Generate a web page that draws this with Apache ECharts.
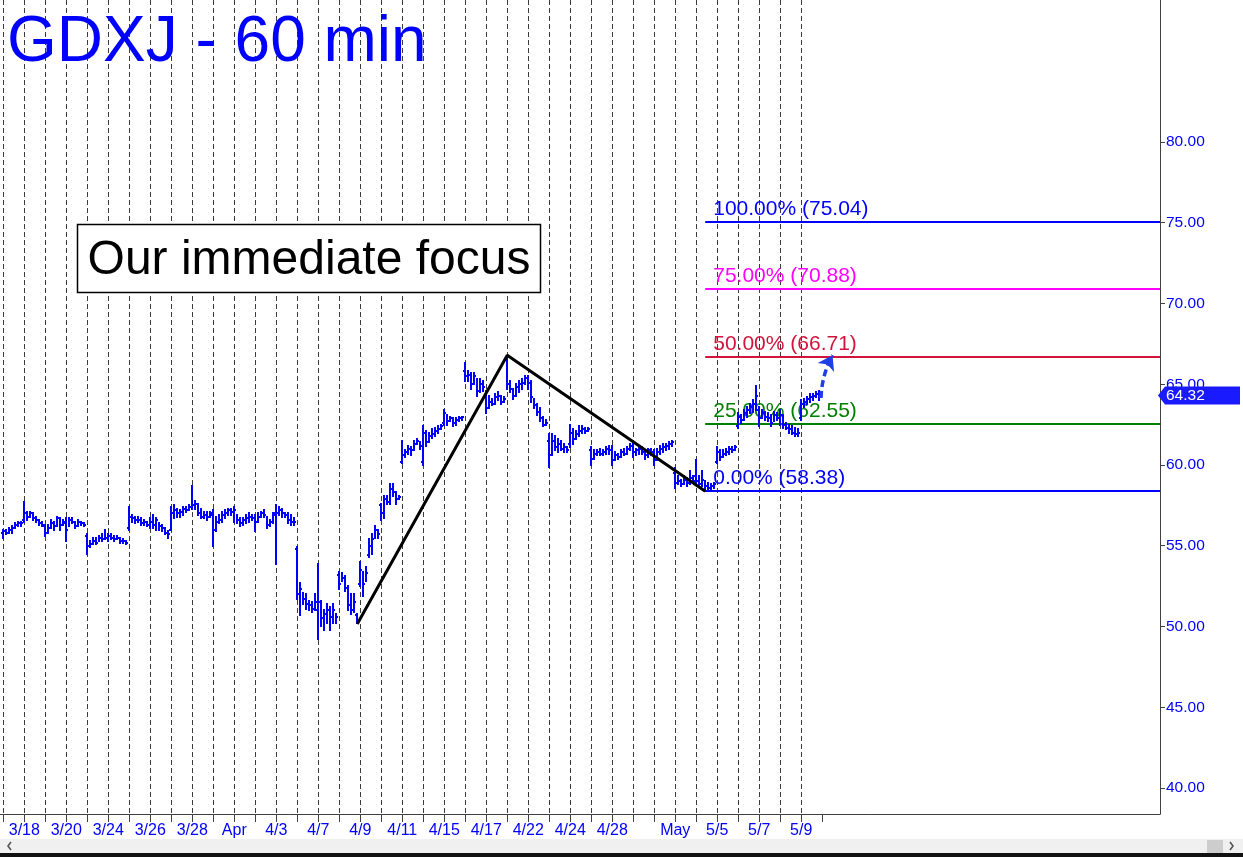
<!DOCTYPE html>
<html><head><meta charset="utf-8">
<script src="https://cdn.jsdelivr.net/npm/echarts@6/dist/echarts.min.js"></script>
<style>html,body{margin:0;padding:0;background:#fff;overflow:hidden}#c{width:1243px;height:857px}</style>
</head><body><div id="c"></div>
<script>
// ---- data ----
const dates = ['3/17','3/18','3/19','3/20','3/21','3/24','3/25','3/26','3/27','3/28','3/31','4/1','4/2','4/3','4/4','4/7','4/8','4/9','4/10','4/11','4/14','4/15','4/16','4/17','4/21','4/22','4/23','4/24','4/25','4/28','4/29','4/30','5/1','5/2','5/5','5/6','5/7','5/8','5/9'];
const dayLabels = ['','3/18','','3/20','','3/24','','3/26','','3/28','','Apr','','4/3','','4/7','','4/9','','4/11','','4/15','','4/17','','4/22','','4/24','','4/28','','','May','','5/5','','5/7','','5/9'];
const barsPerDay = 7;
const open = [
55.8,55.9,55.8,56.0,56.1,56.3,56.4,
56.6,57.0,56.8,57.0,56.7,56.6,56.4,
56.2,55.8,56.1,56.4,56.2,56.7,56.3,
56.4,56.0,56.6,56.5,56.2,56.5,56.4,
55.6,55.0,55.1,55.3,55.2,55.5,55.4,
55.5,55.6,55.5,55.4,55.5,55.3,55.3,
56.1,56.8,56.7,56.6,56.6,56.4,56.5,
56.3,56.5,56.3,56.6,56.2,56.1,55.8,
56.0,57.0,57.2,57.0,57.1,57.3,57.2,
57.4,57.5,57.6,57.0,56.8,56.9,56.8,
56.9,56.0,56.5,56.6,56.9,57.0,57.2,
57.1,57.2,56.6,56.4,56.6,56.7,56.8,
56.7,56.5,56.8,57.0,56.9,56.3,56.5,
57.0,57.0,57.2,57.0,56.9,56.6,56.5,
54.8,52.0,52.3,51.7,51.4,51.3,51.1,
51.0,51.5,50.5,50.8,51.0,50.6,51.0,
53.2,52.6,53.0,52.4,51.3,51.0,50.7,
52.6,53.5,52.6,54.4,55.0,55.4,56.0,
57.5,57.0,57.9,57.7,58.5,58.3,57.9,
60.2,60.6,60.8,61.0,60.9,61.3,61.5,
60.2,62.0,61.4,61.8,61.9,62.1,62.2,
62.6,63.2,62.7,62.9,62.6,62.8,62.9,
65.8,65.5,65.6,65.0,65.5,64.6,65.0,
64.3,63.5,63.9,63.8,64.2,64.3,63.9,
66.5,65.0,64.7,64.3,64.8,65.0,65.1,
65.4,65.1,64.2,63.7,63.3,62.9,62.5,
61.5,60.6,61.5,61.1,61.3,61.0,61.1,
61.3,62.0,61.6,61.9,62.1,62.2,62.1,
60.9,60.4,60.7,60.8,60.7,60.8,61.0,
60.9,60.3,60.6,60.5,60.8,60.7,61.0,
61.2,60.8,60.9,61.0,60.8,60.6,60.9,
60.8,60.3,60.8,61.0,61.1,61.2,61.3,
59.5,58.9,59.0,58.8,59.1,58.9,59.2,
59.3,59.0,58.8,59.1,58.7,58.6,58.7,
60.2,60.8,60.5,60.7,60.8,61.0,60.9,
62.4,63.0,62.8,63.2,63.4,63.6,63.8,
63.4,62.9,63.2,63.0,62.9,62.6,63.1,
62.9,63.1,62.5,62.3,62.2,62.0,61.9,
62.9,63.8,63.9,64.1,64.2,64.3,64.4];
const high = [
56.0,56.0,56.1,56.2,56.4,56.5,56.5,
57.7,57.1,57.1,57.0,56.8,56.6,56.5,
56.3,56.3,56.6,56.5,56.8,56.7,56.6,
56.7,56.7,56.7,56.5,56.6,56.5,56.4,
55.7,55.3,55.5,55.5,55.6,55.7,56.0,
55.7,55.7,55.6,55.6,55.5,55.4,55.3,
57.4,56.9,56.8,56.8,56.7,56.6,56.5,
56.7,56.9,56.7,56.4,56.3,56.1,55.9,
57.4,57.5,57.3,57.2,57.4,57.4,57.5,
58.7,57.8,57.6,57.3,57.1,57.1,57.1,
57.2,56.8,56.9,57.1,57.2,57.3,57.3,
57.4,56.9,56.7,56.7,56.9,57.0,56.9,
56.9,57.0,57.1,57.2,56.8,56.6,57.0,
57.5,57.4,57.3,57.0,57.0,56.9,56.7,
54.9,52.7,52.1,52.0,51.6,51.5,52.0,
53.9,51.6,51.0,51.4,51.2,51.4,50.8,
53.4,53.3,53.1,52.5,52.0,52.0,50.8,
54.0,53.4,53.7,55.4,55.7,56.2,56.0,
57.6,58.1,58.1,58.8,58.8,58.3,58.1,
61.5,60.9,61.2,61.1,61.5,61.6,61.4,
62.4,62.1,62.0,62.2,62.3,62.4,62.5,
63.4,63.1,63.0,62.9,62.9,63.0,63.0,
66.3,65.8,65.7,65.7,65.3,65.3,65.2,
64.6,64.3,64.1,64.4,64.5,64.3,64.2,
66.7,65.2,64.7,65.0,65.2,65.3,65.5,
65.5,65.2,64.1,63.8,63.5,63.0,62.8,
61.9,61.9,61.8,61.6,61.5,61.3,61.1,
62.5,62.2,62.1,62.4,62.4,62.3,62.3,
61.1,60.9,60.9,61.0,60.9,61.1,61.2,
61.2,60.8,60.7,60.9,61.0,61.1,61.3,
61.4,61.0,61.2,61.1,60.9,61.0,61.0,
60.9,61.0,61.2,61.3,61.3,61.4,61.5,
59.8,59.3,59.1,59.3,59.2,59.6,59.3,
60.3,59.3,59.6,59.0,58.9,58.8,58.9,
61.1,60.9,60.9,61.0,61.1,61.1,61.2,
63.2,63.1,63.4,63.6,63.8,64.0,64.9,
63.6,63.4,63.3,63.2,63.1,63.3,63.2,
63.4,63.1,62.6,62.5,62.4,62.3,62.2,
64.0,64.1,64.2,64.4,64.4,64.5,64.6];
const low = [
55.5,55.7,55.8,55.8,56.1,56.2,56.2,
56.5,56.6,56.8,56.6,56.5,56.3,56.2,
55.6,55.8,56.1,56.0,56.2,56.0,56.3,
55.3,56.2,56.4,56.1,56.2,56.3,56.2,
54.5,54.9,55.1,55.1,55.3,55.3,55.4,
55.3,55.4,55.3,55.4,55.2,55.2,55.1,
56.0,56.5,56.4,56.5,56.3,56.3,56.2,
56.1,56.1,56.0,56.0,55.9,55.7,55.5,
56.0,56.7,56.8,56.8,56.9,57.1,57.2,
57.3,57.3,56.9,56.7,56.7,56.6,56.8,
55.0,55.9,56.4,56.5,56.7,56.9,56.9,
56.5,56.4,56.2,56.3,56.4,56.5,56.6,
55.9,56.5,56.8,56.8,56.1,56.2,56.4,
53.9,56.9,56.8,56.8,56.4,56.3,56.3,
51.7,50.7,51.4,51.1,51.0,50.9,51.0,
49.2,50.0,49.8,50.2,49.8,50.2,50.2,
52.3,52.8,52.2,51.0,50.8,50.9,50.2,
52.5,51.9,52.8,54.3,54.5,55.5,55.5,
56.6,56.7,57.6,57.6,58.1,57.6,57.9,
60.1,60.5,60.7,60.6,60.9,61.3,61.0,
60.0,61.2,61.4,61.7,61.8,62.0,62.2,
62.5,62.5,62.7,62.4,62.5,62.7,62.8,
65.2,65.2,64.7,65.0,64.3,64.5,64.6,
63.2,63.5,63.7,63.8,64.0,63.8,63.9,
64.7,64.5,64.1,64.3,64.5,64.7,65.0,
64.7,63.9,63.5,63.1,62.7,62.4,62.5,
59.9,60.6,60.9,60.8,60.9,60.8,60.8,
61.1,61.3,61.6,61.8,62.0,62.0,62.1,
60.0,60.4,60.6,60.6,60.6,60.7,60.7,
60.0,60.3,60.4,60.5,60.6,60.7,60.9,
60.5,60.6,60.7,60.7,60.4,60.5,60.6,
60.0,60.3,60.7,60.8,60.9,61.0,61.2,
58.6,58.8,58.7,58.8,58.7,58.8,58.9,
58.9,58.7,58.7,58.4,58.5,58.5,58.6,
60.1,60.3,60.5,60.6,60.7,60.8,60.9,
62.3,62.6,62.8,63.0,63.2,63.3,63.4,
62.4,62.9,62.8,62.7,62.4,62.7,62.8,
62.5,62.3,62.2,62.0,61.9,61.8,61.8,
62.8,63.6,63.8,63.9,64.0,64.2,64.0];
const close = [
55.9,55.8,56.0,56.1,56.3,56.4,56.4,
57.0,56.8,57.0,56.7,56.6,56.4,56.3,
55.8,56.1,56.4,56.2,56.7,56.3,56.5,
56.0,56.6,56.5,56.2,56.5,56.4,56.3,
55.0,55.1,55.3,55.2,55.5,55.4,55.5,
55.6,55.5,55.4,55.5,55.3,55.3,55.2,
56.8,56.7,56.6,56.6,56.4,56.5,56.3,
56.5,56.3,56.6,56.2,56.1,55.8,55.7,
57.0,57.2,57.0,57.1,57.3,57.2,57.4,
57.5,57.6,57.0,56.8,56.9,56.8,57.0,
56.0,56.5,56.6,56.9,57.0,57.2,57.1,
57.2,56.6,56.4,56.6,56.7,56.8,56.7,
56.5,56.8,57.0,56.9,56.3,56.5,56.9,
57.0,57.2,57.0,56.9,56.6,56.5,56.5,
52.0,52.3,51.7,51.4,51.3,51.1,51.5,
51.5,50.5,50.8,51.0,50.6,51.0,50.6,
52.6,53.0,52.4,51.3,51.0,51.5,50.4,
53.5,52.6,53.3,55.0,55.4,56.0,55.7,
57.0,57.9,57.7,58.5,58.3,57.9,58.0,
60.6,60.8,61.0,60.9,61.3,61.5,61.2,
62.0,61.4,61.8,61.9,62.1,62.2,62.4,
63.2,62.7,62.9,62.6,62.8,62.9,63.0,
65.5,65.6,65.0,65.5,64.6,65.0,64.8,
63.5,63.9,63.8,64.2,64.3,63.9,64.1,
65.0,64.7,64.3,64.8,65.0,65.1,65.4,
65.1,64.2,63.7,63.3,62.9,62.5,62.6,
60.6,61.5,61.1,61.3,61.0,61.1,60.9,
62.0,61.6,61.9,62.1,62.2,62.1,62.2,
60.4,60.7,60.8,60.7,60.8,61.0,60.9,
60.3,60.6,60.5,60.8,60.7,61.0,61.2,
60.8,60.9,61.0,60.8,60.6,60.9,60.8,
60.3,60.8,61.0,61.1,61.2,61.3,61.4,
58.9,59.0,58.8,59.1,58.9,59.2,59.0,
59.0,58.8,59.1,58.7,58.6,58.7,58.8,
60.8,60.5,60.7,60.8,61.0,60.9,61.1,
63.0,62.8,63.2,63.4,63.6,63.8,64.3,
62.9,63.2,63.0,62.9,62.6,63.1,62.9,
63.1,62.5,62.3,62.2,62.0,61.9,62.0,
63.8,63.9,64.1,64.2,64.3,64.4,64.32];
const yTicks = [40,45,50,55,60,65,70,75,80];
const zigzag = [{day:16,bar:6,price:50.15},{day:24,bar:0,price:66.8},{day:33,bar:3,price:58.38}];
const fibPct = ['0.00%','25.00%','50.00%','75.00%','100.00%'];
const fibPrice = [58.38,62.55,66.71,70.88,75.04];
const fibColor = ['#0000ff','#008000','#d2143c','#ff00ff','#0000ff'];
const projection = [[272.6,64.15],[276.45,66.8]];
const lastPrice = 64.32;
const titleText = 'GDXJ - 60 min';
const noteText = 'Our immediate focus';

// ---- chart ----
const FONT = '"Liberation Sans", Arial, sans-serif';
const BLUE = '#0000ff';
const xMin = -1.1, xMax = 385.6, yMin = 38.39, yMax = 88.79;
const ohlc = open.map((o,k)=>[k, o, high[k], low[k], close[k]]);
const dayStarts = dates.map((d,i)=>i*barsPerDay);
const tickVals = dayStarts.concat([dates.length*barsPerDay]);
const labelVals = dayLabels.map((l,i)=>l?i*barsPerDay:null).filter(v=>v!==null);
const zigData = zigzag.map(z=>[z.day*barsPerDay+z.bar, z.price]);
const fibStart = zigData[zigData.length-1][0];

const chart = echarts.init(document.getElementById('c'), null, {renderer:'canvas'});
chart.setOption({
  animation:false,
  backgroundColor:'#ffffff',
  grid:{left:0, right:83, top:0, bottom:43},
  xAxis:{type:'value', min:xMin, max:xMax,
    axisLine:{show:true, onZero:false, lineStyle:{color:'#404040', width:1}},
    axisTick:{show:true, customValues:tickVals, length:8, lineStyle:{color:'#404040'}},
    axisLabel:{customValues:labelVals, color:BLUE, fontSize:16, fontFamily:FONT, margin:9,
      formatter:v=>dayLabels[Math.round(v/barsPerDay)]},
    splitLine:{show:false}},
  yAxis:{type:'value', position:'right', min:yMin, max:yMax,
    axisLine:{show:true, onZero:false, lineStyle:{color:'#404040', width:1}},
    axisTick:{show:true, customValues:yTicks, length:5, lineStyle:{color:'#404040'}},
    axisLabel:{customValues:yTicks, color:BLUE, fontSize:15.5, fontFamily:FONT, margin:6,
      formatter:v=>v.toFixed(2)},
    splitLine:{show:false}},
  graphic:[
    {type:'text', left:7, top:11, z:50, style:{text:titleText, fill:BLUE, font:'64px '+FONT}},
    {type:'rect', shape:{x:77.5, y:224.5, width:463, height:68}, z:40,
      style:{fill:'#ffffff', stroke:'#000', lineWidth:1.5}},
    {type:'text', x:309, y:261, z:41, style:{text:noteText, fill:'#000', font:'48px '+FONT, align:'center', verticalAlign:'middle'}},
    {type:'rect', shape:{x:0, y:839, width:1243, height:14}, style:{fill:'#f0f0f0'}},
    {type:'rect', shape:{x:1207, y:840, width:16, height:13}, style:{fill:'#cdcdcd'}},
    {type:'polyline', shape:{points:[[11,842],[8,846],[11,850]]}, style:{stroke:'#555', lineWidth:1.6, fill:null}},
    {type:'polyline', shape:{points:[[1230,842],[1233,846],[1230,850]]}, style:{stroke:'#555', lineWidth:1.6, fill:null}},
    {type:'rect', shape:{x:0, y:853, width:1243, height:4}, style:{fill:'#111'}}
  ],
  series:[
    {type:'custom', name:'days', z:1, silent:true, data:dayStarts.map(v=>[v]),
      renderItem:(p,api)=>{
        const a=api.coord([api.value(0), yMax]), b=api.coord([api.value(0), yMin]);
        const x=Math.round(a[0])+0.5;
        return {type:'line', shape:{x1:x,y1:a[1],x2:x,y2:b[1]}, style:{stroke:'#3c3c3c', lineWidth:1, lineDash:[5,3]}};
      }},
    {type:'custom', name:'fib', z:3, silent:true, data:fibPrice.map((v,i)=>[fibStart, v, i]),
      renderItem:(p,api)=>{
        const i=api.value(2);
        const a=api.coord([api.value(0), api.value(1)]), b=api.coord([xMax, api.value(1)]);
        const y=Math.round(a[1]);
        return {type:'group', children:[
          {type:'line', shape:{x1:a[0],y1:y,x2:b[0],y2:y}, style:{stroke:fibColor[i], lineWidth:2}},
          {type:'text', style:{text:fibPct[i]+' ('+fibPrice[i].toFixed(2)+')', x:a[0]+8, y:y-13, fill:fibColor[i], font:'21px '+FONT, verticalAlign:'middle'}}
        ]};
      }},
    {type:'custom', name:'GDXJ', z:4, silent:true, data:ohlc,
      renderItem:(p,api)=>{
        const x=api.value(0);
        const pO=api.coord([x,api.value(1)]), pH=api.coord([x,api.value(2)]), pL=api.coord([x,api.value(3)]), pC=api.coord([x,api.value(4)]);
        const cx=Math.round(pH[0]);
        const top=Math.round(pH[1])-1, bot=Math.round(pL[1])+1;
        const st={fill:BLUE};
        return {type:'group', children:[
          {type:'rect', shape:{x:cx-1, y:top, width:2, height:Math.max(bot-top,3)}, style:st},
          {type:'rect', shape:{x:cx-2, y:Math.round(pO[1])-1, width:1, height:2}, style:st},
          {type:'rect', shape:{x:cx+1, y:Math.round(pC[1])-1, width:1, height:2}, style:st}
        ]};
      }},
    {type:'line', name:'zigzag', z:6, silent:true, data:zigData, symbol:'none',
      lineStyle:{color:'#000', width:3}},
    {type:'lines', name:'projection', z:7, silent:true, coordinateSystem:'cartesian2d',
      symbol:['none','arrow'], symbolSize:14,
      lineStyle:{color:'#1f3fe6', width:3.5, type:[7,4], curveness:0.12, opacity:1},
      data:[{coords:projection}]},
    {type:'custom', name:'last', z:10, silent:true, clip:false, data:[[xMax, lastPrice]],
      renderItem:(p,api)=>{
        const pt=api.coord([api.value(0), api.value(1)]);
        const x=pt[0], y=Math.round(pt[1])+0.5;
        return {type:'group', children:[
          {type:'polygon', shape:{points:[[x-2,y],[x+5,y-9],[x+80,y-9],[x+80,y+9],[x+5,y+9]]}, style:{fill:'#1a1aff'}},
          {type:'text', style:{text:api.value(1).toFixed(2), x:x+6, y:y, fill:'#fff', font:'15.5px '+FONT, verticalAlign:'middle'}}
        ]};
      }}
  ]
});
</script></body></html>
